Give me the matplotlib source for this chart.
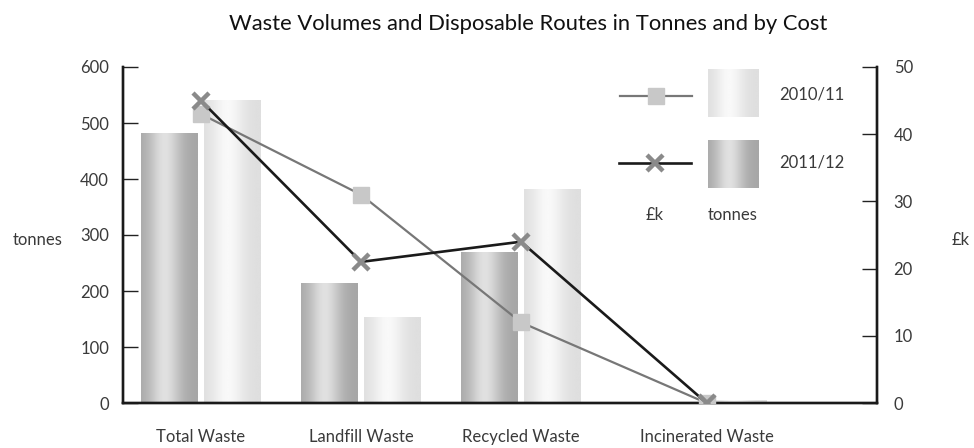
import numpy as np
import matplotlib
matplotlib.use("Agg")
import matplotlib.pyplot as plt
from matplotlib.lines import Line2D

plt.rcParams['font.family'] = ['Lato', 'DejaVu Sans']

categories = ["Total Waste", "Landfill Waste", "Recycled Waste", "Incinerated Waste"]
cat_pos = [0, 1, 2, 3.16]

# tonnes (left axis)
tonnes_2011 = [482, 213, 268, 0]
tonnes_2010 = [541, 152, 382, 5]

# cost in £k (right axis)
cost_2010 = [43, 31, 12, 0]
cost_2011 = [45, 21, 24, 0]

W, H = 974, 448
fig = plt.figure(figsize=(W / 100, H / 100), dpi=100)


def fx(x):
    return x / W


def fy(y):
    return 1 - y / H


ax = fig.add_axes([fx(123), fy(403), fx(877) - fx(123), fy(67) - fy(403)])
ax2 = ax.twinx()


def cyl_gradient(edge, mid, n=200):
    # horizontal shading with a highlight a bit left of centre
    t = np.linspace(0, 1, n)
    w = np.exp(-((t - 0.42) / 0.28) ** 2)
    v = edge + (mid - edge) * w
    return np.tile(v, (2, 1))


dark_grad = cyl_gradient(0.65, 0.88)
light_grad = cyl_gradient(0.87, 0.975)

bw = 0.356
off = 0.197
x = np.array(cat_pos)
b1 = ax.bar(x - off, tonnes_2011, bw, color="none", edgecolor="none")
b2 = ax.bar(x + off, tonnes_2010, bw, color="none", edgecolor="none")
for bars, grad in ((b1, dark_grad), (b2, light_grad)):
    for p in bars:
        x0, y0 = p.get_x(), p.get_y()
        w, h = p.get_width(), p.get_height()
        if h <= 0:
            continue
        ax.imshow(grad, cmap="gray", vmin=0, vmax=1, aspect="auto",
                  extent=[x0, x0 + w, y0, y0 + h], zorder=2)

ax.set_xlim(-0.4875, 4.225)
ax.set_ylim(0, 600)
ax.set_yticks(range(0, 601, 100))
ax2.set_ylim(0, 50)
ax2.set_yticks(range(0, 51, 10))

ax2.plot(x, cost_2010, color="#777777", lw=1.6, marker="s", ms=11,
         mfc="#c8c8c8", mec="#c8c8c8", zorder=3)
ax2.plot(x, cost_2011, color="#1a1a1a", lw=1.9, marker="x", ms=12,
         mew=3.2, mec="#8a8a8a", zorder=4)

txt = "#3a3a3a"
ax.set_xticks(x)
ax.set_xticklabels(categories)
ax.tick_params(axis="x", length=0, pad=19, labelsize=12, labelcolor=txt)
ax.tick_params(axis="y", direction="in", length=11, width=1, color="#222222",
               pad=10, labelsize=12, labelcolor=txt)
ax2.tick_params(axis="y", direction="in", length=11, width=1, color="#222222",
                pad=12, labelsize=12, labelcolor=txt)

for a in (ax, ax2):
    a.spines["top"].set_visible(False)
    for s in ("left", "right", "bottom"):
        a.spines[s].set_linewidth(1.7)
        a.spines[s].set_color("#1a1a1a")

fig.text(fx(528), fy(24), "Waste Volumes and Disposable Routes in Tonnes and by Cost",
         ha="center", va="center", fontsize=15.8, color="#111111")
fig.text(fx(38), fy(240), "tonnes", ha="center", va="center", fontsize=12, color=txt)
fig.text(fx(961), fy(240), "£k", ha="center", va="center", fontsize=12, color=txt)

# legend
fig.add_artist(Line2D([fx(620), fx(692)], [fy(96), fy(96)], color="#777777", lw=1.6,
                      transform=fig.transFigure))
fig.add_artist(Line2D([fx(656)], [fy(96)], marker="s", ms=11, mfc="#c8c8c8",
                      mec="#c8c8c8", transform=fig.transFigure))
fig.add_artist(Line2D([fx(619), fx(691)], [fy(163), fy(163)], color="#1a1a1a", lw=1.9,
                      transform=fig.transFigure))
fig.add_artist(Line2D([fx(655)], [fy(163)], marker="x", ms=12, mew=3.2, mec="#8a8a8a",
                      transform=fig.transFigure))

for top, grad in ((69, light_grad), (140, dark_grad)):
    lax = fig.add_axes([fx(708), fy(top + 48), fx(759) - fx(708), fy(top) - fy(top + 48)])
    lax.imshow(grad, cmap="gray", vmin=0, vmax=1, aspect="auto")
    lax.axis("off")

fig.text(fx(779), fy(94), "2010/11", ha="left", va="center", fontsize=12, color=txt)
fig.text(fx(779), fy(163), "2011/12", ha="left", va="center", fontsize=12, color=txt)
fig.text(fx(655), fy(215), "£k", ha="center", va="center", fontsize=12, color=txt)
fig.text(fx(733), fy(215), "tonnes", ha="center", va="center", fontsize=12, color=txt)

fig.savefig("out.png", dpi=100)
